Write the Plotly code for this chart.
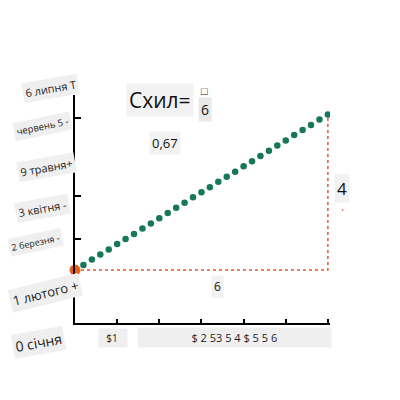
import plotly.graph_objects as go

# slope line points (rise 4 over run 6, starting at y=1)
line_x = [0.0, 0.2, 0.4, 0.6, 0.8, 1.0, 1.2, 1.4, 1.6, 1.8, 2.0, 2.2, 2.4, 2.6, 2.8, 3.0,
          3.2, 3.4, 3.6, 3.8, 4.0, 4.2, 4.4, 4.6, 4.8, 5.0, 5.2, 5.4, 5.6, 5.8, 6.0]
line_y = [1.0, 1.13, 1.27, 1.4, 1.53, 1.67, 1.8, 1.93, 2.07, 2.2, 2.33, 2.47, 2.6, 2.73, 2.87, 3.0,
          3.13, 3.27, 3.4, 3.53, 3.67, 3.8, 3.93, 4.07, 4.2, 4.33, 4.47, 4.6, 4.73, 4.87, 5.0]

start_x, start_y = 0, 1
run_x, rise_y = 6, 4
slope_text = "0,67"

# garbled axis labels as they appear in the picture
y_labels = ["0 січня", "1 лютого +", "2 березня -", "3 квітня -", "9 травня+", "червень 5 -", "6 липня T"]
x_tick_vals = [1, 2, 3, 4, 5, 6]
x_labels = ["$1", "$ 2 53 5 4 $ 5 5 6"]

FONT = "Open Sans"
GREEN = "#17775a"
ORANGE = "#e8601c"
RED = "#e05a2a"

L, T, W, H = 67, 87, 255, 228


def paper(px, py):
    # page pixel (body has 8px margin) -> paper coordinates
    return (px - 8 - L) / W, (T + H - (py - 8)) / H


def note(px, py, text, size, color="#111", bg="#f2f2f2", angle=0, pad=2, fig=None):
    x, y = paper(px, py)
    fig.add_annotation(x=x, y=y, xref="paper", yref="paper", text=text, showarrow=False,
                       xanchor="center", yanchor="middle",
                       textangle=angle, bgcolor=bg, borderpad=pad,
                       font=dict(size=size, color=color, family=FONT))


def main():
    fig = go.Figure()

    # red dotted run / rise
    fig.add_trace(go.Scatter(
        x=[start_x, start_x + run_x, start_x + run_x],
        y=[start_y, start_y, start_y + rise_y],
        mode="lines", line=dict(color=RED, width=1.5, dash="dot"),
        hoverinfo="skip"))

    fig.add_trace(go.Scatter(
        x=line_x, y=line_y, mode="markers",
        marker=dict(color=GREEN, size=6.5), hoverinfo="skip"))

    fig.add_trace(go.Scatter(
        x=[start_x], y=[start_y], mode="markers",
        marker=dict(color=ORANGE, size=11), cliponaxis=False, hoverinfo="skip"))

    # y labels, bottom to top
    spots = [(38, 342), (45, 293), (35, 242), (42, 208), (46, 167), (42, 126), (50, 88)]
    angles = [-10, -14, -12, -10, -10, -12, -10]
    sizes = [14, 13, 9, 11, 11, 9.5, 11]
    for lab, (px, py), ang, sz in zip(y_labels, spots, angles, sizes):
        note(px, py, lab, sz, color="#222", bg="#efefef", angle=ang, fig=fig)

    note(113, 338, "&nbsp;&nbsp;" + x_labels[0] + "&nbsp;&nbsp;&nbsp;", 10, color="#222", bg="#efefef", fig=fig)
    note(234, 337, "&nbsp;" * 18 + x_labels[1] + "&nbsp;" * 18, 11, color="#222", bg="#efefef", fig=fig)

    # slope annotations
    note(160, 100, "Схил=", 21, fig=fig)
    note(204, 90, "□", 11, bg="rgba(0,0,0,0)", fig=fig)
    note(205, 109, "6", 14, bg="#e8e8e8", fig=fig)
    note(165, 143, slope_text, 13, fig=fig)
    note(342, 188, str(rise_y), 17, fig=fig)
    note(342, 210, "·", 12, color=RED, bg="rgba(0,0,0,0)", pad=0, fig=fig)
    note(217, 286, str(run_x), 12, fig=fig)

    fig.update_layout(
        width=400, height=400, showlegend=False,
        margin=dict(l=L, r=400 - L - W, t=T, b=400 - T - H),
        paper_bgcolor="white", plot_bgcolor="white",
        xaxis=dict(range=[0, 6.05], showgrid=False, zeroline=False,
                   showline=True, linecolor="black", linewidth=2,
                   tickvals=x_tick_vals, ticks="inside", ticklen=4, tickwidth=2,
                   tickcolor="black", showticklabels=False),
        yaxis=dict(range=[-0.36, 5.5], showgrid=False, zeroline=False,
                   showline=True, linecolor="black", linewidth=2,
                   tickvals=[1.8, 2.9, 4.9], ticks="inside", ticklen=6, tickwidth=2,
                   tickcolor="black", showticklabels=False),
    )

    fig.write_html("out.html")


if __name__ == "__main__":
    main()
